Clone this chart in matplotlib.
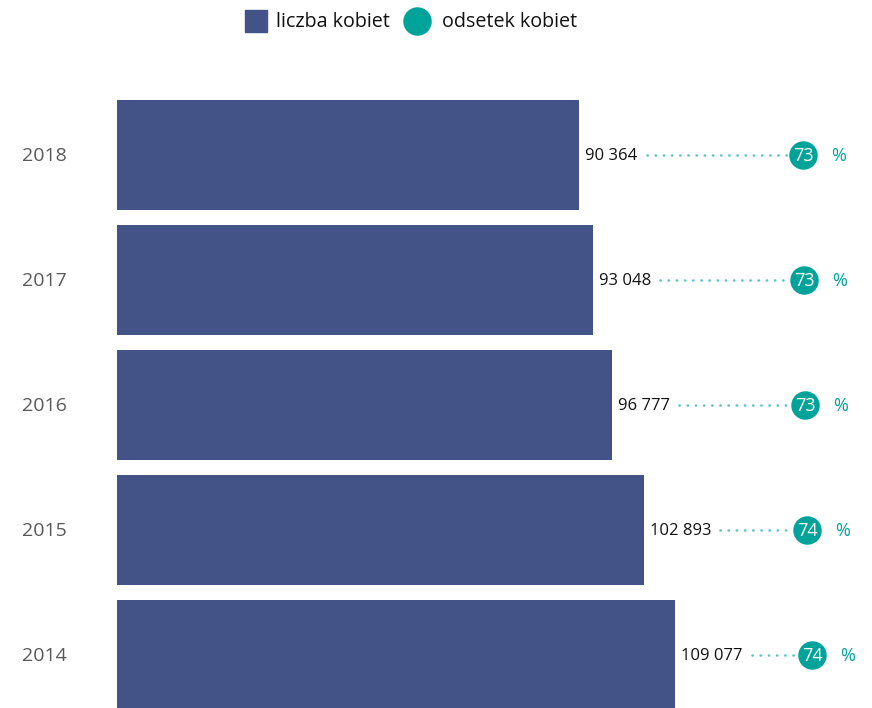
import matplotlib
matplotlib.use("Agg")
import matplotlib.pyplot as plt
from matplotlib.lines import Line2D

years = ["2014", "2015", "2016", "2017", "2018"]
counts = [109077, 102893, 96777, 93048, 90364]
count_labels = ["109 077", "102 893", "96 777", "93 048", "90 364"]
percents = [74.1, 73.6, 73.4, 73.3, 73.2]
percent_labels = ["74", "74", "73", "73", "73"]
legend_labels = ["liczba kobiet", "odsetek kobiet"]

BAR = "#435388"
TEAL = "#00A39A"
DOT = "#5BC8C4"
GREY = "#595959"

plt.rcParams['font.family'] = ['Open Sans', 'DejaVu Sans']

W, H = 872, 708
fig = plt.figure(figsize=(W / 100, H / 100), dpi=100)

left_px = 117
ax = fig.add_axes([left_px / W, 0, 1 - left_px / W, 646 / H])
ypos = list(range(len(years)))
ax.barh(ypos, counts, height=0.88, color=BAR, zorder=2)
ax.set_xlim(0, (W - left_px) * 195.4)
ax.set_ylim(-0.424, 4.744)
ax.axis("off")

# percent axis overlay
axp = ax.twiny()
axp.set_xlim(73.5 - (806 - left_px) / 10, 73.5 + (W - 806) / 10)
axp.set_ylim(ax.get_ylim())
axp.axis("off")

for y, yr in zip(ypos, years):
    ax.annotate(yr, xy=(0, y), xycoords=("axes fraction", "data"),
                xytext=(22 - left_px, -1), textcoords="offset pixels",
                fontsize=14, color=GREY, va="center", ha="left")

fig.canvas.draw()
renderer = fig.canvas.get_renderer()

for y, c, cl, p, pl in zip(ypos, counts, count_labels, percents, percent_labels):
    t = ax.annotate(cl, xy=(c, y), xytext=(6, -1), textcoords="offset pixels",
                    fontsize=12, color="#111111", va="center", ha="left")
    fig.canvas.draw()
    bb = t.get_window_extent(renderer)
    cx, cy = axp.transData.transform((p, y))
    x0 = bb.x1 + 9
    x1 = cx - 16
    inv = axp.transData.inverted()
    p0 = inv.transform((x0, cy))[0]
    p1 = inv.transform((x1, cy))[0]
    axp.plot([p0, p1], [y, y], color=DOT, linewidth=1.9,
             linestyle=(0, (0.1, 3.0)), dash_capstyle="round", zorder=3)
    axp.plot([p], [y], marker="o", markersize=20.5, color=TEAL,
             markeredgewidth=0, linestyle="none", zorder=4)
    axp.annotate(pl, xy=(p, y), xytext=(0, -1), textcoords="offset pixels",
                 fontsize=13, color="white", ha="center", va="center", zorder=5)
    axp.annotate("%", xy=(p, y), xytext=(36, -1), textcoords="offset pixels",
                 fontsize=13, color=TEAL, ha="center", va="center")

# legend (manual)
ly = 1 - 21 / H
fig.add_artist(Line2D([255.5 / W], [ly], marker="s", markersize=15.5, color=BAR,
                      linestyle="none", transform=fig.transFigure))
fig.text(276 / W, ly - 1 / H, legend_labels[0], fontsize=14.2, color="#111111",
         ha="left", va="center")
fig.add_artist(Line2D([417 / W], [ly], marker="o", markersize=20.5, color=TEAL,
                      markeredgewidth=0, linestyle="none", transform=fig.transFigure))
fig.text(442 / W, ly - 1 / H, legend_labels[1], fontsize=14.2, color="#111111",
         ha="left", va="center")

fig.savefig("out.png", dpi=100)
